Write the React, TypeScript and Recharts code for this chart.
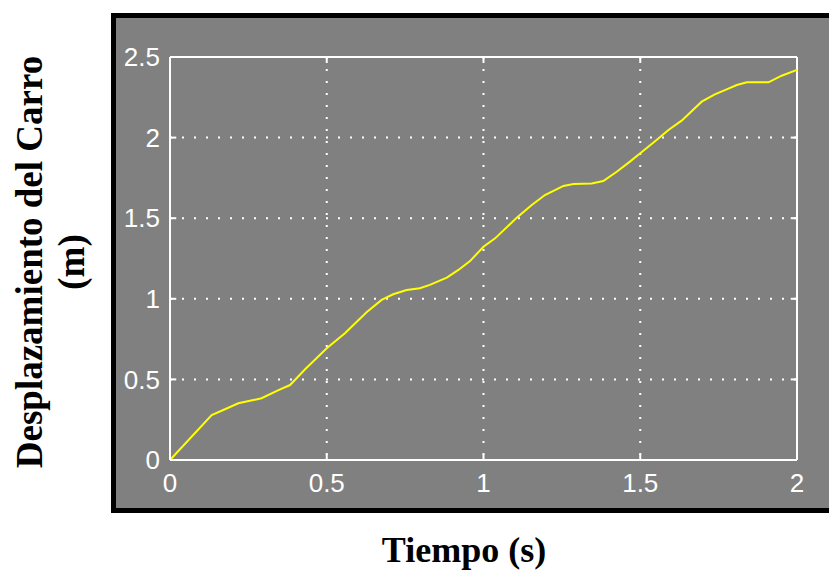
import { LineChart, Line, XAxis, YAxis, CartesianGrid, ReferenceLine } from "recharts";

// tiempo (s) y desplazamiento del carro (m)
const tiempo = [
  0, 0.133, 0.17, 0.218, 0.266, 0.292, 0.346, 0.383, 0.431, 0.5, 0.558, 0.627,
  0.675, 0.712, 0.755, 0.797, 0.829, 0.883, 0.92, 0.957, 1.0, 1.037, 1.106,
  1.154, 1.196, 1.255, 1.287, 1.345, 1.382, 1.425, 1.467, 1.5, 1.552, 1.59,
  1.632, 1.696, 1.738, 1.77, 1.808, 1.84, 1.909, 1.951, 2.0,
];
const desplazamiento = [
  0, 0.279, 0.31, 0.352, 0.372, 0.383, 0.434, 0.465, 0.563, 0.693, 0.786, 0.916,
  0.993, 1.028, 1.055, 1.065, 1.086, 1.131, 1.179, 1.234, 1.323, 1.375, 1.503,
  1.582, 1.644, 1.7, 1.712, 1.716, 1.731, 1.788, 1.851, 1.903, 1.985, 2.047,
  2.105, 2.223, 2.268, 2.295, 2.326, 2.343, 2.343, 2.384, 2.42,
];
const xTicks = [0, 0.5, 1, 1.5, 2];
const yTicks = [0, 0.5, 1, 1.5, 2, 2.5];

const data = tiempo.map((t, i) => ({ t, x: desplazamiento[i] }));

const WHITE = "#ffffff";
const tickStyle = { fill: WHITE, fontSize: 26, fontFamily: "Liberation Sans, Arial, sans-serif" };
const titleFont = "Liberation Serif, Times New Roman, serif";

export default function App() {
  return (
    <div style={{ position: "absolute", left: 0, top: 0, width: 829, height: 572, overflow: "hidden", background: "#fff" }}>
      {/* recuadro gris estilo MATLAB */}
      <div
        style={{
          position: "absolute",
          left: 111,
          top: 13,
          width: 760,
          height: 500,
          boxSizing: "border-box",
          border: "5px solid #000",
          background: "#808080",
        }}
      />
      <div style={{ position: "absolute", left: 0, top: 0 }}>
        <LineChart
          width={829}
          height={572}
          data={data}
          margin={{ top: 57, right: 32, bottom: 82, left: 110 }}
        >
          <CartesianGrid stroke={WHITE} strokeWidth={2} strokeDasharray="2 10" />
          <XAxis
            dataKey="t"
            type="number"
            domain={[0, 2]}
            ticks={xTicks}
            height={30}
            axisLine={{ stroke: WHITE, strokeWidth: 2 }}
            tickLine={false}
            tickMargin={8}
            tick={tickStyle}
          />
          <YAxis
            type="number"
            domain={[0, 2.5]}
            ticks={yTicks}
            width={60}
            axisLine={{ stroke: WHITE, strokeWidth: 2 }}
            tickLine={false}
            tickMargin={4}
            tick={tickStyle}
          />
          <ReferenceLine y={2.5} stroke={WHITE} strokeWidth={2} />
          <ReferenceLine x={2} stroke={WHITE} strokeWidth={2} />
          {xTicks.slice(1, -1).map((v) => (
            <ReferenceLine key={"b" + v} segment={[{ x: v, y: 0 }, { x: v, y: 0.037 }]} stroke={WHITE} strokeWidth={2} />
          ))}
          {xTicks.slice(1, -1).map((v) => (
            <ReferenceLine key={"t" + v} segment={[{ x: v, y: 2.5 }, { x: v, y: 2.463 }]} stroke={WHITE} strokeWidth={2} />
          ))}
          {yTicks.slice(1, -1).map((v) => (
            <ReferenceLine key={"l" + v} segment={[{ x: 0, y: v }, { x: 0.02, y: v }]} stroke={WHITE} strokeWidth={2} />
          ))}
          {yTicks.slice(1, -1).map((v) => (
            <ReferenceLine key={"r" + v} segment={[{ x: 2, y: v }, { x: 1.98, y: v }]} stroke={WHITE} strokeWidth={2} />
          ))}
          <Line
            type="linear"
            dataKey="x"
            stroke="#ffff00"
            strokeWidth={2}
            dot={false}
            isAnimationActive={false}
          />
        </LineChart>
      </div>
      {/* título del eje y */}
      <div
        style={{
          position: "absolute",
          left: 51,
          top: 262,
          width: 0,
          height: 0,
        }}
      >
        <div
          style={{
            position: "absolute",
            left: 0,
            top: 0,
            transform: "translate(-50%, -50%) rotate(-90deg)",
            whiteSpace: "nowrap",
            textAlign: "center",
            fontFamily: titleFont,
            fontWeight: "bold",
            fontSize: 37,
            lineHeight: "42px",
            color: "#000",
          }}
        >
          Desplazamiento del Carro
          <br />
          (m)
        </div>
      </div>
      {/* título del eje x */}
      <div
        style={{
          position: "absolute",
          left: 464,
          top: 530,
          transform: "translateX(-50%)",
          whiteSpace: "nowrap",
          fontFamily: titleFont,
          fontWeight: "bold",
          fontSize: 36,
          lineHeight: "40px",
          color: "#000",
        }}
      >
        Tiempo (s)
      </div>
    </div>
  );
}
